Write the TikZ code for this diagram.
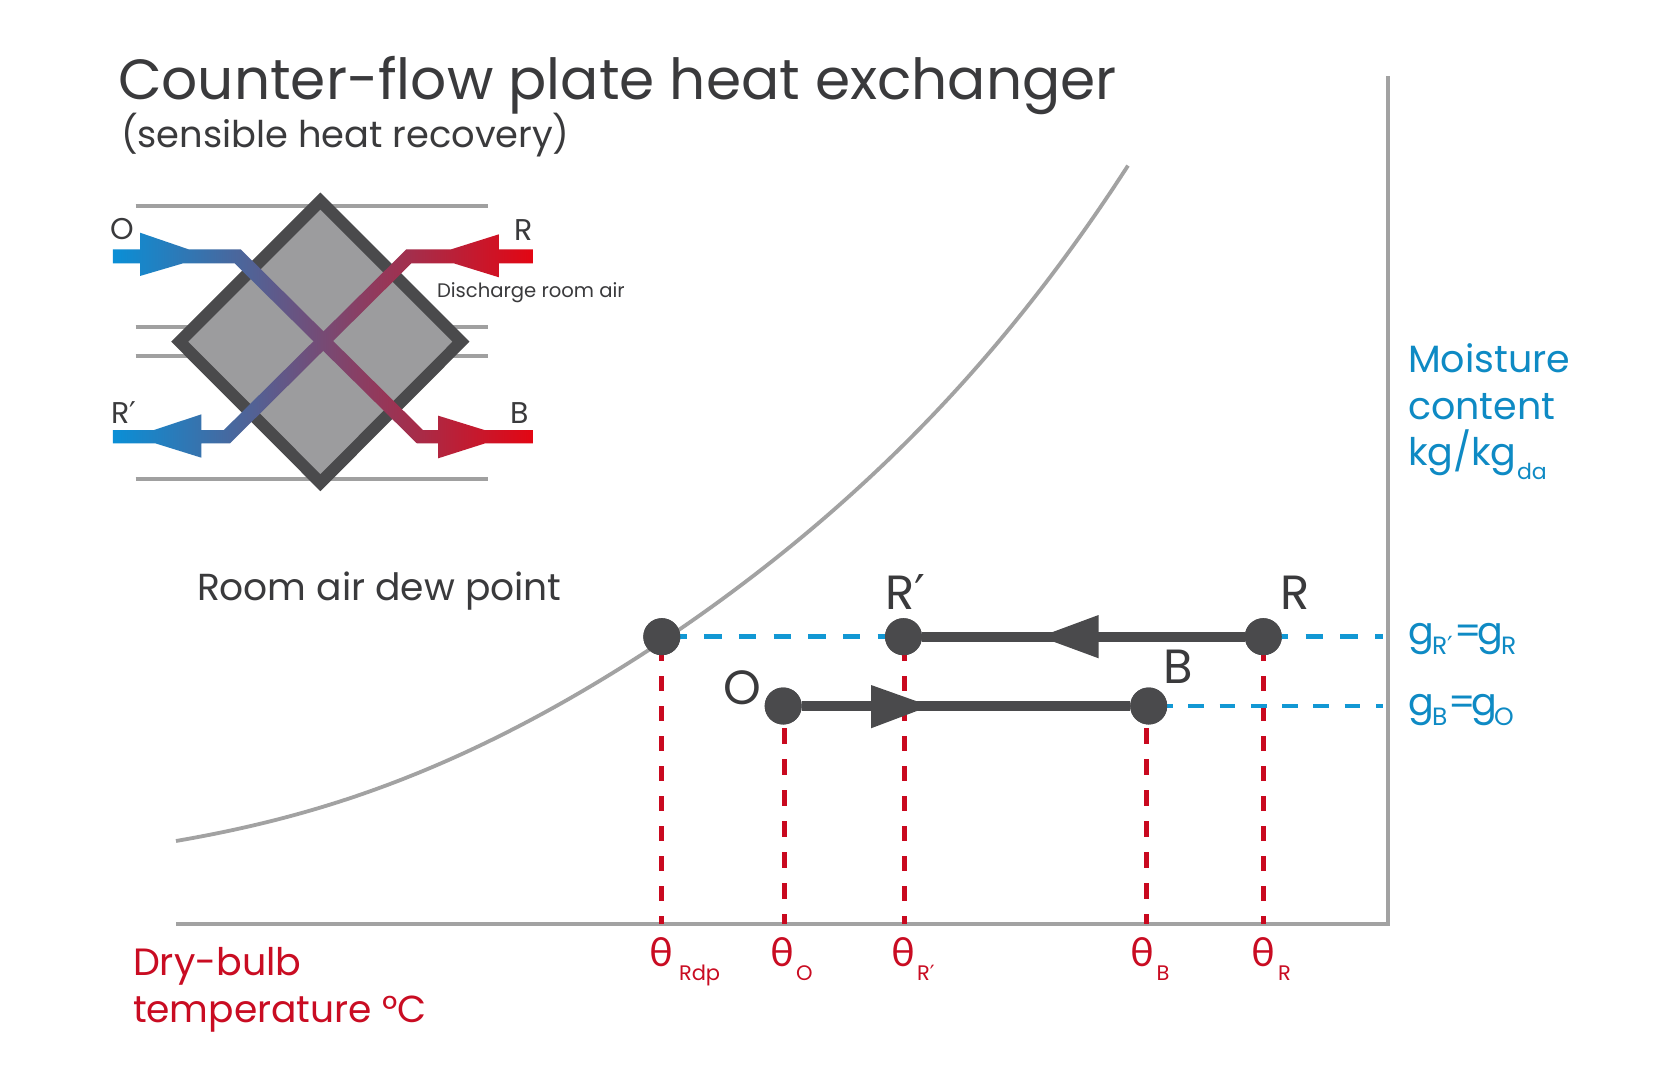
\documentclass[tikz,border=0pt]{standalone}
\usepackage{fontspec}
\setmainfont{Poppins}
\newfontfamily\grk{Lato}
\newfontfamily\prmfont{DejaVu Sans}
\newcommand{\prm}{{\prmfont ′}}
\definecolor{ink}{HTML}{3A3A3C}
\definecolor{dark}{HTML}{4A4A4C}
\definecolor{plate}{HTML}{9C9C9E}
\definecolor{axisgrey}{HTML}{A2A2A2}
\definecolor{linegrey}{HTML}{A0A0A0}
\definecolor{coolb}{HTML}{0A8FD6}
\definecolor{warmr}{HTML}{E30613}
\definecolor{midp}{HTML}{754F82}
\definecolor{dashb}{HTML}{1298D4}
\definecolor{dashr}{HTML}{C9091F}
\definecolor{txtb}{HTML}{0E8AC4}
\definecolor{txtr}{HTML}{C90C22}
\newcommand{\fs}[1]{\fontsize{#1}{#1}\selectfont}
\tikzset{
  x=0.5pt,y=-0.5pt,
  lbl/.style={anchor=base west,inner sep=0pt,outer sep=0pt,text=ink},
  blbl/.style={lbl,text=txtb},
  rlbl/.style={lbl,text=txtr},
  pt/.style={circle,fill=dark,minimum size=18.5pt,inner sep=0pt,outer sep=0pt},
  guide/.style={line width=2pt,color=linegrey},
  axisline/.style={line width=2pt,color=axisgrey},
  flow/.style={left color=coolb,middle color=midp,right color=warmr,shading angle=90,draw=none},
  reddash/.style={line width=2.5pt,color=dashr,dash pattern=on 7.5pt off 7.5pt},
  bluedash/.style={line width=2.4pt,color=dashb,dash pattern=on 8.7pt off 8.65pt,dash phase=13.5pt},
  proc/.style={line width=5pt,color=dark},
  headfill/.style={fill=dark,draw=none}
}
\begin{document}
\begin{tikzpicture}
\useasboundingbox (0,0) rectangle (1680,1080);
\fill[white] (0,0) rectangle (1680,1080);
% title
\node[lbl] (title) at (118,100) {\fs{28.3}Counter-flow plate heat exchanger};
\node[lbl] (subtitle) at (121,148) {\fs{18.4}(sensible heat recovery)};
% exchanger
\foreach \yy/\nn in {206/a,327.3/b,355.7/c,479/d}
  \draw[guide] (135.7,\yy) coordinate (gl\nn) -- (487.9,\yy) coordinate (gr\nn);
\draw[line width=6pt,color=dark,fill=plate,miter limit=10]
  (320.4,201) -- (461,341.7) -- (320.4,482.7) -- (179.7,341.7) -- cycle;
\shade[flow]
  (112.9,249.3) -- (240.7,249.3) -- (422.9,430) -- (532.9,430) -- (532.9,443.3) -- (416.8,443.3) -- (234.6,263.3) -- (112.9,263.3) -- cycle
  (140,232.7) -- (208,256) -- (140,276) -- cycle
  (438.2,415.7) -- (506,436.7) -- (438.2,458.3) -- cycle;
\shade[flow]
  (532.9,249.3) -- (532.9,263.3) -- (411.4,263.3) -- (230,443.3) -- (112.9,443.3) -- (112.9,430) -- (223.9,430) -- (406.4,249.3) -- cycle
  (498.9,234.3) -- (498.9,277.3) -- (430,256) -- cycle
  (201.4,414.3) -- (201.4,457.7) -- (134,436.7) -- cycle;
\node[lbl,anchor=center] (eO) at (122,229.5) {\fs{15}O};
\node[lbl,anchor=center] (eR) at (524,230) {\fs{15}R};
\node[lbl,anchor=center] (eRp) at (124,413) {\fs{15}R\prm};
\node[lbl,anchor=center] (eB) at (519.6,413) {\fs{15}B};
\node[lbl] (disch) at (437,298) {\fs{9.8}Discharge room air};
\node[lbl] (dew) at (197,600) {\fs{18.8}Room air dew point};
% axes and curve
\coordinate (origin) at (176,924);
\coordinate (corner) at (1388,924);
\coordinate (top) at (1388,76);
\draw[axisline,line join=miter] (origin) -- (corner) -- (top);
\draw[line width=1.9pt,color=axisgrey] plot[domain=0:952,samples=60,smooth]
  ({176+\x},{841-129*(exp(0.00192*\x)-1)+8.5*1.33*sin(\x/952*360)*(1-\x/952)});
% state points
\node[pt] (Rdp) at (661.8,636.7) {};
\node[pt] (Rp) at (903.5,636.7) {};
\node[pt] (R) at (1263.3,636.7) {};
\node[pt] (O) at (783.2,706) {};
\node[pt] (B) at (1148.7,706) {};
\coordinate (aRdp) at (661.8,924);
\coordinate (aRp) at (904.3,924);
\coordinate (aR) at (1263.3,924);
\coordinate (aO) at (784,924);
\coordinate (aB) at (1146.7,924);
\coordinate (gR) at (1383,636.7);
\coordinate (gB) at (1383,706);
% red guides
\draw[reddash,dash phase=10.35pt] (Rdp.center) -- (aRdp);
\draw[reddash,dash phase=10.35pt] (aRp |- Rp) -- (aRp);
\draw[reddash,dash phase=10.35pt] (R.center) -- (aR);
\draw[reddash,dash pattern=on 7.75pt off 7.75pt,dash phase=4.35pt] (aO |- O) -- (aO);
\draw[reddash,dash pattern=on 7.75pt off 7.75pt,dash phase=4.35pt] (aB |- B) -- (aB);
% blue guides
\draw[bluedash] (Rdp.center) -- (Rp.center);
\draw[bluedash] (R.center) -- (gR);
\draw[bluedash,dash pattern=on 7.85pt off 7.8pt,dash phase=11.55pt] (B.center) -- (gB);
% processes
\draw[proc] (R) -- (Rp);
\draw[proc] (O) -- (B);
\fill[headfill] (1098.6,615) -- (1098.6,658.3) -- (1040,636.7) -- cycle;
\fill[headfill] (871,685) -- (930,706) -- (871,728.3) -- cycle;
% redraw dots on top
\node[pt] (Rdptop) at (Rdp.center) {};
\node[pt] (Rptop) at (Rp.center) {};
\node[pt] (Rtop) at (R.center) {};
\node[pt] (Otop) at (O.center) {};
\node[pt] (Btop) at (B.center) {};
% point labels
\node[lbl] (tRp) at (885,609) {\fs{24}R\prm};
\node[lbl] (tR) at (1280,609) {\fs{24}R};
\node[lbl,anchor=center] (tO) at (741.9,688) {\fs{24}O};
\node[lbl] (tB) at (1163,683) {\fs{24}B};
% moisture
\node[blbl] (m1) at (1408,372.5) {\fs{19}Moisture};
\node[blbl] (m2) at (1408,419) {\fs{19}content};
\node[blbl] (m3) at (1408,466) {\fs{19}kg/kg};
\node[blbl] (m4) at (1517,479.3) {\fs{11}da};
\node[blbl] (g1) at (1408,644) {\fs{19}g};
\node[blbl] (g1s) at (1432,654) {\fs{12.5}R\prm};
\node[blbl] (g1e) at (1454,644) {\fs{19}=};
\node[blbl] (g2) at (1477,644) {\fs{19}g};
\node[blbl] (g2s) at (1501,654) {\fs{12.5}R};
\node[blbl] (g3) at (1408,715) {\fs{19}g};
\node[blbl] (g3s) at (1432,725) {\fs{12.5}B};
\node[blbl] (g3e) at (1448,715) {\fs{19}=};
\node[blbl] (g4) at (1471,715) {\fs{19}g};
\node[blbl] (g4s) at (1494,725) {\fs{12.5}O};
% temperature
\node[rlbl] (d1) at (133,975) {\fs{19}Dry-bulb};
\node[rlbl] (d2) at (133,1022) {\fs{18.8}temperature °C};
\foreach \xx/\nn in {661.5/a,782/b,903/c,1142/d,1263/e}
  \node[rlbl,anchor=base] (th\nn) at (\xx,966.7) {\fs{20}\grk θ};
\node[rlbl] (s1) at (679,980) {\fs{10.5}Rdp};
\node[rlbl] (s2) at (796,980) {\fs{10.5}O};
\node[rlbl] (s3) at (917,980) {\fs{10.5}R\prm};
\node[rlbl] (s4) at (1156.5,980) {\fs{10.5}B};
\node[rlbl] (s5) at (1278,980) {\fs{10.5}R};
\end{tikzpicture}
\end{document}
